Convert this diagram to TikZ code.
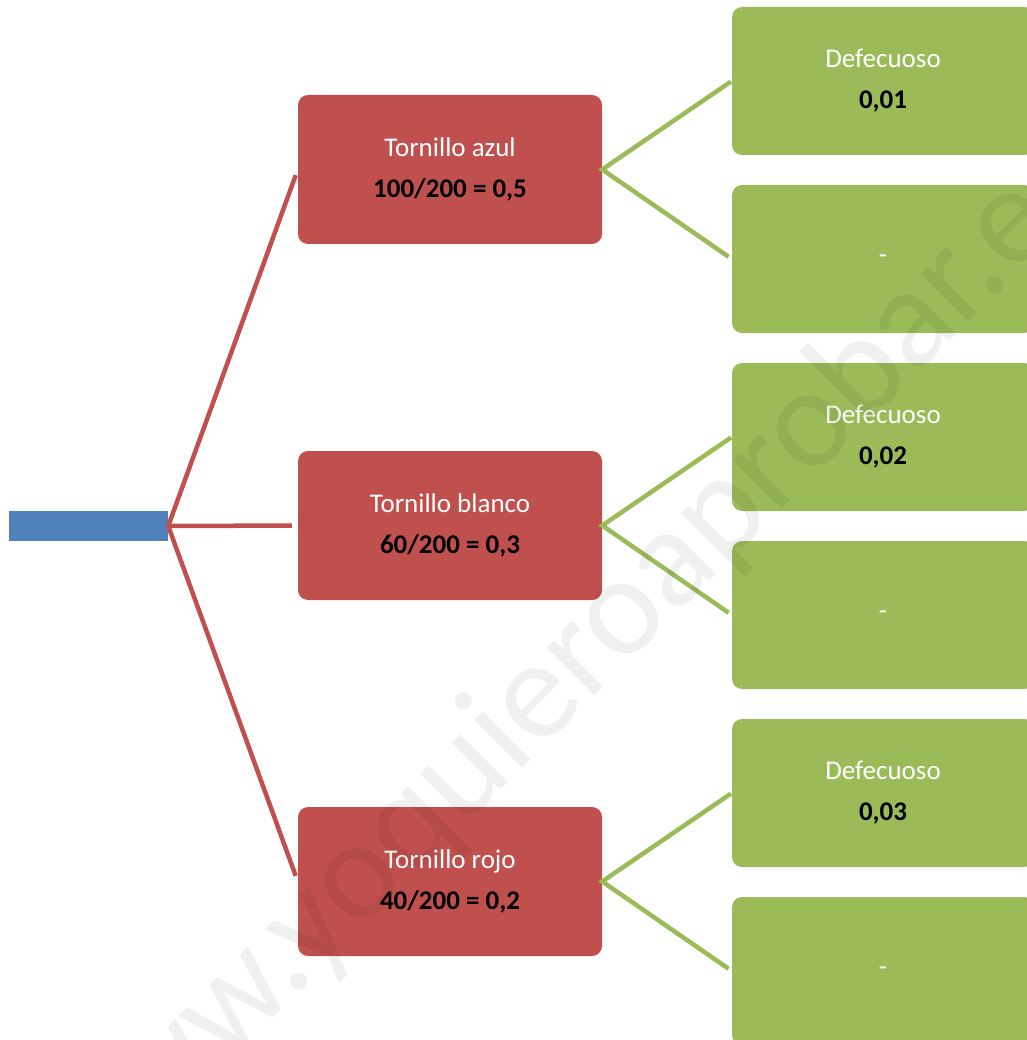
\documentclass[tikz,border=0pt]{standalone}
\usepackage{fontspec}
\setmainfont{Carlito}
\definecolor{azul}{HTML}{4F81BD}
\definecolor{rojo}{HTML}{C0504D}
\definecolor{verde}{HTML}{9BBB59}

\begin{document}
\begin{tikzpicture}[x=1pt,y=-1pt,
		caja/.style={rounded corners=10pt,inner sep=0pt,align=center,text=white,
			font=\fontsize{27}{41}\selectfont},
		tornillo/.style={caja,fill=rojo,minimum width=304pt,minimum height=149pt},
		defecto/.style={caja,fill=verde,minimum width=302pt,minimum height=148pt},
		rama/.style={rojo,line width=4.5pt,shorten >=6pt},
		subrama/.style={verde,line width=4.5pt,shorten <=1pt,shorten >=4pt}]
		\useasboundingbox (0,0) rectangle (1026,1040);
		% raiz
		\node [fill=azul,minimum width=159pt,minimum height=30pt,inner sep=0pt] (raiz) at (88.5,526) {};
		% primer nivel
		\node [tornillo] (azul) at (450,169.5) {Tornillo azul\\\textcolor{black}{\textbf{100/200 = 0,5}}};
		\node [tornillo] (blanco) at (450,525.5) {Tornillo blanco\\\textcolor{black}{\textbf{60/200 = 0,3}}};
		\node [tornillo] (rojo) at (450,881.5) {Tornillo rojo\\\textcolor{black}{\textbf{40/200 = 0,2}}};
		% segundo nivel
		\node [defecto] (def1) at (883,81) {Defecuoso\\\textcolor{black}{\textbf{0,01}}};
		\node [defecto] (nodef1) at (883,259) {-};
		\node [defecto] (def2) at (883,437) {Defecuoso\\\textcolor{black}{\textbf{0,02}}};
		\node [defecto] (nodef2) at (883,615) {-};
		\node [defecto] (def3) at (883,793) {Defecuoso\\\textcolor{black}{\textbf{0,03}}};
		\node [defecto] (nodef3) at (883,971) {-};
		% ramas
		\draw [rama] (raiz.east) -- (azul.west);
		\draw [rama] (raiz.east) -- (blanco.west);
		\draw [rama] (raiz.east) -- (rojo.west);
		\draw [subrama] (def1.west) -- (azul.east) -- (nodef1.west);
		\draw [subrama] (def2.west) -- (blanco.east) -- (nodef2.west);
		\draw [subrama] (def3.west) -- (rojo.east) -- (nodef3.west);
		% marca de agua
		\node [anchor=base,rotate=45,text=black,text opacity=0.06,
			font=\fontsize{142}{142}\selectfont] (marca) at (592,699) {www.yoquieroaprobar.es};
	\end{tikzpicture}
\end{document}
